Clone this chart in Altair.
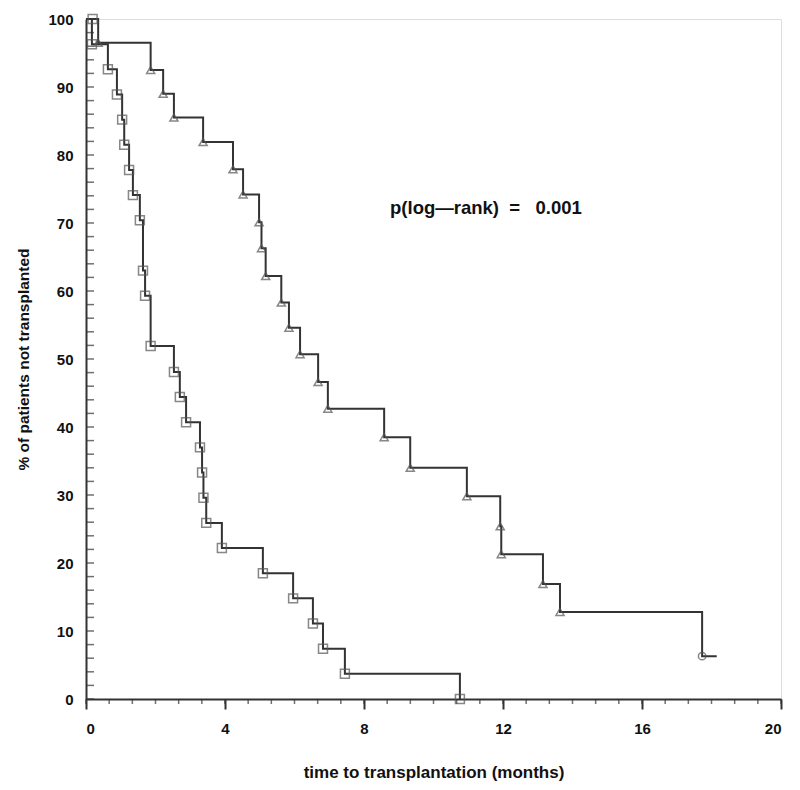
import altair as alt
import pandas as pd

# Group with square markers (faster transplantation)
sq_t = [0, 0.17, 0.63, 0.89, 1.04, 1.10, 1.24, 1.35, 1.55, 1.64, 1.70, 1.86, 2.53, 2.70,
        2.88, 3.28, 3.34, 3.38, 3.46, 3.91, 5.09, 5.96, 6.53, 6.82, 7.45, 10.76]
sq_s = [100, 96.3, 92.6, 88.9, 85.2, 81.5, 77.8, 74.1, 70.4, 63.0, 59.3, 51.9, 48.1, 44.4,
        40.7, 37.0, 33.3, 29.6, 25.9, 22.2, 18.5, 14.8, 11.1, 7.4, 3.7, 0]
sq_extra_t = [0.19]
sq_extra_s = [100]

# Group with triangle markers
tr_t = [0, 0.35, 1.86, 2.22, 2.53, 3.37, 4.23, 4.52, 4.98, 5.05, 5.17, 5.62, 5.84, 6.16,
        6.68, 6.96, 8.58, 9.33, 10.96, 11.92, 11.95, 13.15, 13.64, 17.73]
tr_s = [100, 96.5, 92.5, 89.0, 85.5, 81.9, 77.9, 74.2, 70.1, 66.3, 62.2, 58.3, 54.6, 50.7,
        46.6, 42.7, 38.5, 34.0, 29.8, 25.4, 21.3, 16.9, 12.8, 6.3]
tr_end_t = [18.15]
tr_end_s = [6.3]

x_labels = [0, 4, 8, 12, 16, 20]
y_labels = [0, 10, 20, 30, 40, 50, 60, 70, 80, 90, 100]
x_minor = [i * 2 / 3 for i in range(31)]
y_minor = list(range(0, 101, 2))

annot_text = "p(log\u2014rank)\u00a0\u00a0=\u00a0\u00a0\u00a00.001"
annot_t = 8.75
annot_s = 72.2

FONT = "Liberation Sans"
INK = "#333333"

sq_df = pd.DataFrame({"t": sq_t, "s": sq_s})
sq_mark_df = pd.DataFrame({"t": sq_t[1:] + sq_extra_t, "s": sq_s[1:] + sq_extra_s})
tr_df = pd.DataFrame({"t": tr_t + tr_end_t, "s": tr_s + tr_end_s})
tr_mark_df = pd.DataFrame({"t": tr_t[1:-1], "s": tr_s[1:-1]})
tr_last_df = pd.DataFrame({"t": tr_t[-1:], "s": tr_s[-1:]})

xs = alt.Scale(domain=[0, 20], nice=False, zero=False)
ys = alt.Scale(domain=[0, 100], nice=False, zero=False)

x_axis = alt.Axis(values=x_labels, format="d", grid=False, tickSize=10, tickWidth=2,
                  tickColor=INK, domainColor=INK, domainWidth=2,
                  labelFont=FONT, labelFontSize=15, labelFontWeight="bold", labelColor="#111",
                  labelPadding=12, title="time to transplantation (months)",
                  titleFont=FONT, titleFontSize=17, titleFontWeight="bold", titleColor="#111",
                  titlePadding=28)
y_axis = alt.Axis(values=y_labels, format="d", grid=False, tickSize=0,
                  domainColor=INK, domainWidth=2,
                  labelFont=FONT, labelFontSize=15, labelFontWeight="bold", labelColor="#111",
                  labelPadding=13, title="% of patients not transplanted",
                  titleFont=FONT, titleFontSize=15.5, titleFontWeight="bold", titleColor="#111",
                  titlePadding=16)

base_x = alt.X("t:Q", scale=xs, axis=x_axis)
base_y = alt.Y("s:Q", scale=ys, axis=y_axis)

sq_line = alt.Chart(sq_df).mark_line(interpolate="step-after", color=INK, strokeWidth=2).encode(
    x=base_x, y=base_y)
tr_line = alt.Chart(tr_df).mark_line(interpolate="step-after", color=INK, strokeWidth=2).encode(
    x="t:Q", y="s:Q")

sq_pts = alt.Chart(sq_mark_df).mark_point(shape="square", filled=False, size=80,
                                          color="#555", strokeWidth=1.5).encode(x="t:Q", y="s:Q")
tr_pts = alt.Chart(tr_mark_df).mark_point(shape="triangle-up", filled=False, size=65,
                                          color="#555", strokeWidth=1.5).encode(x="t:Q", y="s:Q")
tr_last = alt.Chart(tr_last_df).mark_point(shape="circle", filled=False, size=55,
                                           color="#555", strokeWidth=1.5).encode(x="t:Q", y="s:Q")

ymin_df = pd.DataFrame({"s": y_minor, "t": [0] * len(y_minor)})
y_ticks = alt.Chart(ymin_df).mark_tick(orient="horizontal", size=8, thickness=1.5,
                                       color=INK, xOffset=4).encode(x="t:Q", y="s:Q")
xmin_df = pd.DataFrame({"t": x_minor, "s": [0] * len(x_minor)})
x_ticks = alt.Chart(xmin_df).mark_tick(orient="vertical", size=5, thickness=1.5,
                                       color=INK, yOffset=2.5).encode(x="t:Q", y="s:Q")

annot = alt.Chart(pd.DataFrame({"t": [annot_t], "s": [annot_s], "label": [annot_text]})).mark_text(
    align="left", baseline="middle", font=FONT, fontSize=18.5, fontWeight="bold", color="#111"
).encode(x="t:Q", y="s:Q", text="label:N")

chart = alt.layer(sq_line, tr_line, y_ticks, x_ticks, sq_pts, tr_pts, tr_last, annot).properties(
    width=695, height=680,
    padding={"left": 78, "top": 11, "right": 11, "bottom": 83},
    autosize="none",
).configure_view(stroke=None).configure(background="white")

chart.save("out.html", embed_options={"renderer": "svg", "actions": False})
